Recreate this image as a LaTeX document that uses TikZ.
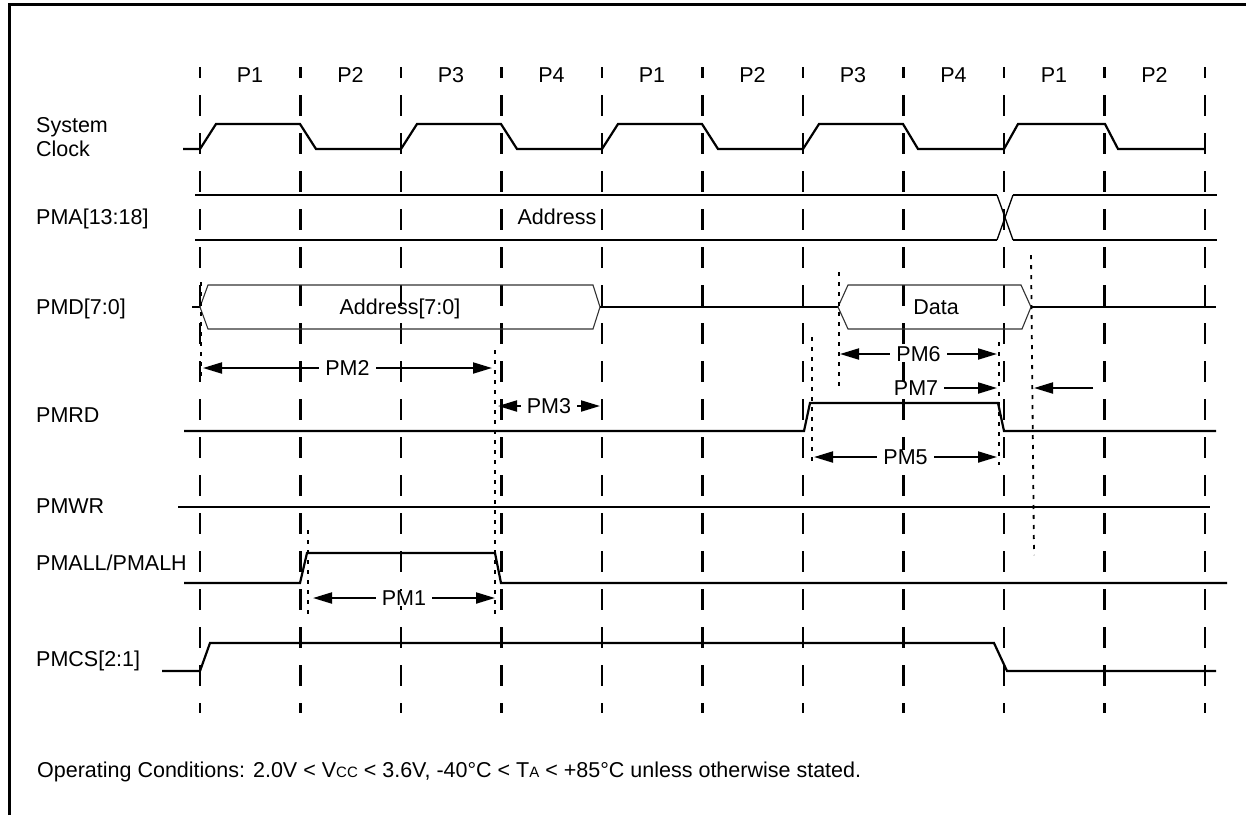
\documentclass[tikz,border=0pt]{standalone}
\usepackage{fontspec}
\setmainfont{Liberation Sans}
\usetikzlibrary{arrows.meta}

\begin{document}
\begin{tikzpicture}[x=1pt,y=-1pt,
  every node/.style={font=\fontsize{21.5}{24}\selectfont,inner sep=0pt},
  sig/.style={line width=2.2pt},
  bus/.style={line width=1.1pt,draw=black!80},
  tickline/.style={line width=2.6pt,dash pattern=on 21pt off 17pt,dash phase=10pt},
  ref/.style={line width=1.8pt,dash pattern=on 4pt off 6pt},
  dim/.style={line width=2pt,{Triangle[length=19pt,width=11pt]}-{Triangle[length=19pt,width=11pt]}},
  dimr/.style={line width=2pt,-{Triangle[length=19pt,width=11pt]}},
  lbl/.style={anchor=west,text height=15pt,text depth=0pt},
  tag/.style={fill=white,inner xsep=6pt,text height=15pt,text depth=0pt}]
\useasboundingbox (0,0) rectangle (1246,815);
\draw[line width=3pt] (9,815) -- (9,4) -- (1246,4);

% phase grid
\foreach \i in {0,...,10}
  \draw[tickline] ({200+100.5*\i},67) -- ({200+100.5*\i},713);
\foreach \p [count=\i from 0] in {P1,P2,P3,P4,P1,P2,P3,P4,P1,P2}
  \node[tag,fill=none] (per\i) at ({250+100.5*\i},75) {\p};

% signal names
\node[anchor=west,align=left] (lclk) at (36,137) {System\\Clock};
\node[lbl] (lpma) at (36,217) {PMA[13:18]};
\node[lbl] (lpmd) at (36,307) {PMD[7:0]};
\node[lbl] (lrd) at (36,415) {PMRD};
\node[lbl] (lwr) at (36,506) {PMWR};
\node[lbl] (lall) at (36,563) {PMALL/PMALH};
\node[lbl] (lcs) at (36,659) {PMCS[2:1]};

% waveforms
\draw[sig] (183,149) -- (200,149) -- (216,124) -- (300,124) -- (316,149) -- (401,149) -- (417,124)
  -- (501,124) -- (517,149) -- (602,149) -- (618,124) -- (702,124) -- (718,149) -- (803,149)
  -- (819,124) -- (903,124) -- (918,149) -- (1004,149) -- (1018,124) -- (1105,124) -- (1118,149) -- (1205,149);

\draw[sig] (195,195) -- (997,195) (1013,195) -- (1217,195);
\draw[sig] (195,240) -- (997,240) (1013,240) -- (1217,240);
\draw[line width=1.3pt] (997,195) -- (1013,240) (997,240) -- (1013,195);
\node[tag,fill=none] (addr) at (557,217) {Address};

\draw[sig] (192,307) -- (200,307);
\draw[bus] (200,307) -- (208,285) -- (593,285) -- (600,307) -- (593,329) -- (208,329) -- cycle;
\draw[sig] (600,307) -- (838,307);
\draw[bus] (838,307) -- (848,285) -- (1021,285) -- (1031,307) -- (1022,329) -- (848,329) -- cycle;
\draw[sig] (1031,307) -- (1216,307);
\node[tag,fill=none] (addr70) at (400,307) {Address[7:0]};
\node[tag,fill=none] (data) at (936,307) {Data};

\draw[sig] (184,431) -- (804,431) -- (810,403) -- (998,403) -- (1004,431) -- (1216,431);
\draw[sig] (178,507) -- (1210,507);
\draw[sig] (184,583) -- (300,583) -- (307,553) -- (495,553) -- (501,583) -- (1227,583);
\draw[sig] (162,671) -- (200,671) -- (210,643) -- (994,643) -- (1007,671) -- (1216,671);

% reference lines
\draw[ref] (201,282) -- (201,380);
\draw[ref] (495,350) -- (495,619);
\draw[ref] (308,530) -- (308,619);
\draw[ref] (839,272) -- (839,390);
\draw[ref] (812,337) -- (812,465);
\draw[ref] (999,342) -- (999,465);
\draw[ref] (1031,255) -- (1034,555);

% timing parameters
\coordinate (pm2a) at (203,368);
\coordinate (pm2b) at (492,368);
\draw[dim] (pm2a) -- (pm2b) node[tag,midway] (pm2) {PM2};
\coordinate (pm3a) at (498,406);
\coordinate (pm3b) at (600,406);
\draw[dim] (pm3a) -- (pm3b) node[tag,midway] (pm3) {PM3};
\coordinate (pm6a) at (840,354);
\coordinate (pm6b) at (997,354);
\draw[dim] (pm6a) -- (pm6b) node[tag,midway] (pm6) {PM6};
\node[tag] (pm7) at (916,388) {PM7};
\coordinate (pm7b) at (997,388);
\coordinate (pm7c) at (1093,388);
\coordinate (pm7d) at (1034,388);
\draw[dimr] (pm7) -- (pm7b);
\draw[dimr] (pm7c) -- (pm7d);
\coordinate (pm5a) at (814,457);
\coordinate (pm5b) at (997,457);
\draw[dim] (pm5a) -- (pm5b) node[tag,midway] (pm5) {PM5};
\coordinate (pm1a) at (313,598);
\coordinate (pm1b) at (495,598);
\draw[dim] (pm1a) -- (pm1b) node[tag,midway] (pm1) {PM1};

\node[lbl] (cond) at (37,770) {Operating Conditions: 2.0V < V{\fontsize{15}{15}\selectfont CC} < 3.6V, -40°C < T{\fontsize{15}{15}\selectfont A} < +85°C unless otherwise stated.};
\end{tikzpicture}
\end{document}
